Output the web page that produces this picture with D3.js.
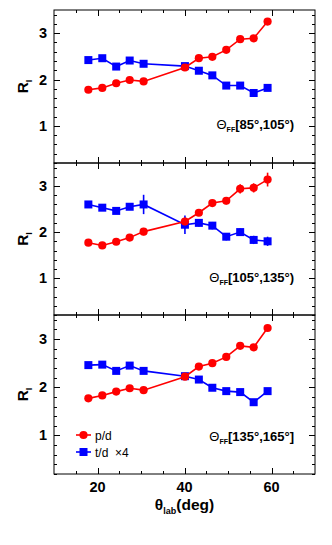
<!DOCTYPE html>
<html><head><meta charset="utf-8">
<script src="https://cdn.jsdelivr.net/npm/d3@7"></script>
<style>
body{margin:0;background:#fff;}
svg{display:block;font-family:"Liberation Sans",Arial,Helvetica,sans-serif;}
</style></head>
<body>
<svg id="c" width="332" height="545"></svg>
<script>
// ---- data ----
const thetaLab = [17.9, 21.1, 24.3, 27.4, 30.6, 40.1, 43.3, 46.4, 49.6, 52.8, 55.9, 59.1];
const panelLabels = ["[85°,105°)", "[105°,135°)", "[135°,165°]"];
const pd1 = [1.78, 1.82, 1.92, 1.99, 1.96, 2.26, 2.46, 2.49, 2.64, 2.87, 2.89, 3.25];
const td1 = [2.42, 2.46, 2.28, 2.41, 2.34, 2.29, 2.19, 2.09, 1.87, 1.87, 1.71, 1.82];
const pd2 = [1.77, 1.71, 1.79, 1.88, 2.01, 2.23, 2.42, 2.63, 2.68, 2.94, 2.96, 3.14];
const td2 = [2.60, 2.53, 2.46, 2.55, 2.60, 2.16, 2.20, 2.14, 1.90, 2.00, 1.83, 1.80];
const pd3 = [1.77, 1.83, 1.91, 1.98, 1.94, 2.22, 2.43, 2.50, 2.63, 2.86, 2.83, 3.23];
const td3 = [2.46, 2.47, 2.34, 2.45, 2.34, 2.23, 2.16, 1.99, 1.92, 1.90, 1.69, 1.92];
const pdErr1 = [0.03,0.03,0.03,0.03,0.04,0.04,0.04,0.04,0.05,0.05,0.05,0.06];
const tdErr1 = [0.04,0.04,0.04,0.04,0.05,0.05,0.05,0.05,0.05,0.05,0.06,0.06];
const pdErr2 = [0.05,0.05,0.05,0.06,0.08,0.08,0.07,0.07,0.08,0.10,0.10,0.15];
const tdErr2 = [0.07,0.06,0.06,0.07,0.21,0.20,0.08,0.08,0.08,0.08,0.09,0.10];
const pdErr3 = [0.03,0.03,0.03,0.03,0.04,0.04,0.04,0.04,0.05,0.05,0.05,0.06];
const tdErr3 = [0.04,0.04,0.04,0.04,0.05,0.05,0.05,0.05,0.05,0.05,0.06,0.06];
const yTicks = [1, 2, 3];
const xTicks = [20, 40, 60];
const legendNames = ["p/d", "t/d  ×4"];

const panels = [
  {pd: pd1, td: td1, pe: pdErr1, te: tdErr1, top: 10, bottom: 163},
  {pd: pd2, td: td2, pe: pdErr2, te: tdErr2, top: 163, bottom: 315},
  {pd: pd3, td: td3, pe: pdErr3, te: tdErr3, top: 315, bottom: 474}
];

const svg = d3.select("#c");
const L = 54, R = 315;
const x = d3.scaleLinear().domain([10, 70]).range([L, R]);
const RED = "#ff0000", BLUE = "#0000ff";
const CR = 4.1, SQ = 8;

panels.forEach((p, i) => {
  const y = d3.scaleLinear().domain([0.2, 3.5]).range([p.bottom, p.top]);
  const g = svg.append("g");

  g.append("rect").attr("x", L).attr("y", p.top).attr("width", R - L).attr("height", p.bottom - p.top)
    .attr("fill", "none").attr("stroke", "#000").attr("stroke-width", 1);

  const yMinor = d3.range(0.2, 3.5001, 0.2).map(v => +v.toFixed(2));
  yMinor.forEach(v => {
    const isMajor = Math.abs(v - Math.round(v)) < 1e-6;
    const len = isMajor ? 6 : 3;
    const yy = Math.round(y(v)) + 0.5;
    g.append("line").attr("x1", L).attr("x2", L + len).attr("y1", yy).attr("y2", yy).attr("stroke", "#000");
    g.append("line").attr("x1", R - len).attr("x2", R).attr("y1", yy).attr("y2", yy).attr("stroke", "#000");
  });
  d3.range(15, 70, 5).forEach(v => {
    const isMajor = v % 20 === 0;
    const len = isMajor ? 6 : 3;
    const xx = Math.round(x(v)) + 0.5;
    g.append("line").attr("x1", xx).attr("x2", xx).attr("y1", p.bottom).attr("y2", p.bottom - len).attr("stroke", "#000");
    g.append("line").attr("x1", xx).attr("x2", xx).attr("y1", p.top).attr("y2", p.top + len).attr("stroke", "#000");
  });

  yTicks.forEach(v => {
    g.append("text").attr("x", 47).attr("y", y(v) + 5).attr("text-anchor", "end")
      .attr("font-size", 14.5).attr("font-weight", "bold").text(v);
  });

  const cy = (p.top + p.bottom) / 2;
  const t = g.append("text").attr("transform", `translate(28,${cy}) rotate(-90)`)
    .attr("text-anchor", "middle").attr("font-size", 15.5).attr("font-weight", "bold");
  t.append("tspan").text("R");
  t.append("tspan").attr("font-size", 9).attr("dy", 4).text("I");

  const series = [
    {vals: p.td, err: p.te, color: BLUE, shape: "sq"},
    {vals: p.pd, err: p.pe, color: RED, shape: "ci"}
  ];
  series.forEach(s => {
    const pts = thetaLab.map((xv, k) => [xv, s.vals[k], s.err[k]]);
    g.append("path").attr("d", d3.line().x(d => x(d[0])).y(d => y(d[1]))(pts))
      .attr("fill", "none").attr("stroke", s.color).attr("stroke-width", 1.6);
    g.selectAll(null).data(pts).enter().append("line")
      .attr("x1", d => x(d[0])).attr("x2", d => x(d[0]))
      .attr("y1", d => y(d[1] - d[2])).attr("y2", d => y(d[1] + d[2]))
      .attr("stroke", s.color).attr("stroke-width", 1.6);
    if (s.shape === "ci") {
      g.selectAll(null).data(pts).enter().append("circle")
        .attr("cx", d => x(d[0])).attr("cy", d => y(d[1])).attr("r", CR).attr("fill", s.color);
    } else {
      g.selectAll(null).data(pts).enter().append("rect")
        .attr("x", d => x(d[0]) - SQ / 2).attr("y", d => y(d[1]) - SQ / 2)
        .attr("width", SQ).attr("height", SQ).attr("fill", s.color);
    }
  });

  const baseY = [129, 282, 441][i];
  const lab = g.append("text").attr("x", 294).attr("y", baseY).attr("text-anchor", "end")
    .attr("font-size", 13);
  lab.append("tspan").text("Θ");
  lab.append("tspan").attr("font-size", 7).attr("font-weight", "bold").attr("dy", 3).text("FF");
  lab.append("tspan").attr("font-weight", "bold").attr("dy", -3).text(panelLabels[i]);

  if (i === panels.length - 1) {
    xTicks.forEach(v => {
      g.append("text").attr("x", x(v)).attr("y", 492).attr("text-anchor", "middle")
        .attr("font-size", 14.5).attr("font-weight", "bold").text(v);
    });
    const xt = g.append("text").attr("x", x(40)).attr("y", 510).attr("text-anchor", "middle")
      .attr("font-size", 15.5).attr("font-weight", "bold");
    xt.append("tspan").text("θ");
    xt.append("tspan").attr("font-size", 9).attr("dy", 4).text("lab");
    xt.append("tspan").attr("dy", -4).text("(deg)");

    const legY = [435, 452];
    const legColor = [RED, BLUE];
    legendNames.forEach((nm, k) => {
      g.append("line").attr("x1", 76).attr("x2", 91).attr("y1", legY[k]).attr("y2", legY[k])
        .attr("stroke", legColor[k]).attr("stroke-width", 1.6);
      if (k === 0) g.append("circle").attr("cx", 83.5).attr("cy", legY[k]).attr("r", CR).attr("fill", RED);
      else g.append("rect").attr("x", 83.5 - SQ / 2).attr("y", legY[k] - SQ / 2).attr("width", SQ).attr("height", SQ).attr("fill", BLUE);
      g.append("text").attr("x", 95).attr("y", legY[k] + 4.5).attr("font-size", 12).text(nm)
        .style("white-space", "pre");
    });
  }
});
</script>
</body></html>
